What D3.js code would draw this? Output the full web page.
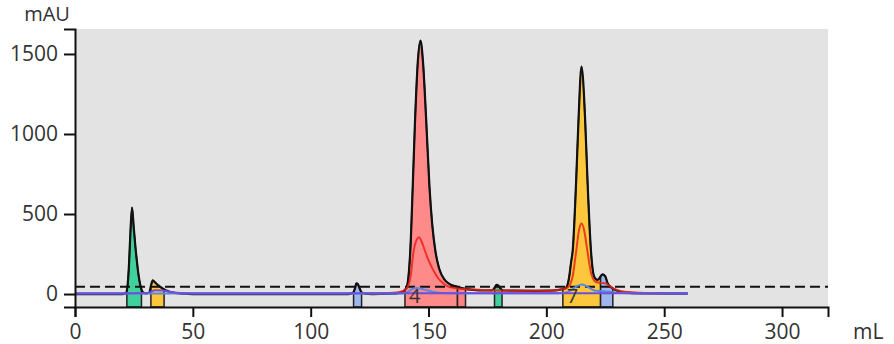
<!DOCTYPE html>
<html>
<head>
<meta charset="utf-8">
<script src="https://cdn.jsdelivr.net/npm/d3@7"></script>
<style>
  body { margin: 0; background: #fff; }
  text { font-family: "Open Sans", sans-serif; }
</style>
</head>
<body>
<div id="chart"></div>
<script>
// UV trace [mL, mAU]
const uvMain = [
  [0,0],[20,0],[21.5,4],[22.2,40],[22.9,180],[23.5,380],[24.2,540],[24.9,420],[25.6,300],[26.3,200],
  [27.0,115],[27.8,50],[28.6,15],[30,4],[31.5,8],[32.2,50],[33,85],[34,72],[35.5,52],[37,36],
  [39,20],[42,8],[46,2],[50,0],[116,0],[118,8],[118.8,35],[119.4,66],[120.1,60],[120.8,35],
  [121.6,10],[123,2],[126,0],[134,2],[137,6],[139,14],[140.7,40],[141.5,110],[142.3,280],[143.3,670],
  [144.3,1090],[145.5,1460],[146.6,1583],[147.7,1440],[149,1090],[150.4,670],[151.6,430],[153,260],
  [154.5,160],[156.8,90],[159,62],[162,46],[165,34],[169,26],[174,22],[177,23],[178,38],[178.9,57],
  [179.8,50],[180.8,30],[182,22],[186,21],[195,20],[202,21],[205.5,26],[208.3,38],[209.7,108],
  [210.5,200],[211.2,275],[212.6,692],[213.7,1108],[214.9,1421],[216.4,1108],[217.5,692],[218.9,275],
  [220.3,108],[221.7,88],[223.9,123],[225,110],[226,67],[228,37],[230,20],[233,10],[240,4],[260,2]
];

// second UV trace
const uvSecond = [
  [125,3],[135,8],[139,18],[141,40],[142.5,120],[143.5,250],[145,340],[146,355],[147,330],[148.5,270],
  [150,210],[152,150],[154,100],[156,70],[158,50],[161,38],[165,31],[175,24],[190,21],[200,21],
  [205,25],[209,40],[211,100],[212.5,250],[214,410],[215,440],[216,400],[217.5,260],[219,130],
  [221,75],[223,70],[225,68],[227,50],[229,30],[232,18],[235,12],[240,8],[250,5]
];

// third UV trace
const uvThird = [
  [0,3],[138,3],[141,12],[143,30],[145,37],[147,33],[150,20],[154,8],[158,5],[205,5],[209,12],
  [211,30],[213,50],[215,60],[217,50],[219,32],[221,20],[224,18],[227,14],[230,8],[235,5],[260,4]
];

// conductivity-like trace
const condTrace = [
  [0,5],[30,5],[32,12],[34,24],[37,22],[40,15],[43,8],[46,5],[140,5],[260,5]
];

const thresholdLevel = 45;

// fractions: start mL, end mL, colour, label
const fractionStart = [22.0, 32.2, 118.2, 140.0, 162.3, 178.0, 207.0, 223.0];
const fractionEnd   = [28.2, 37.8, 121.6, 162.3, 165.7, 181.2, 223.0, 228.2];
const fractionColor = ['#3fd09c', '#fcc73c', '#9db6ee', '#ff8a8a', '#fb8383', '#3fd09c', '#fcc73c', '#9db6ee'];
const fractionLabel = ['', '', '', '4', '', '', '7', ''];

const xTicks = [0, 50, 100, 150, 200, 250, 300];
const yTicks = [0, 500, 1000, 1500];

const width = 894, height = 344;
const margin = {top: 29, right: 66, bottom: 37, left: 75};
const innerW = width - margin.left - margin.right;
const innerH = height - margin.top - margin.bottom;

const x = d3.scaleLinear().domain([0, 319.5]).range([0, innerW]);
const y = d3.scaleLinear().domain([-81, 1656]).range([innerH, 0]);

const svg = d3.select('#chart').append('svg')
    .attr('width', width)
    .attr('height', height);

const g = svg.append('g')
    .attr('transform', `translate(${margin.left},${margin.top})`);

g.append('rect')
    .attr('width', innerW)
    .attr('height', innerH)
    .attr('fill', '#e3e3e3');

// interpolate the UV trace at a given mL (for fraction edges)
const bisect = d3.bisector(d => d[0]).left;
function uvAt(ml) {
  const i = bisect(uvMain, ml);
  if (i <= 0) return uvMain[0][1];
  if (i >= uvMain.length) return uvMain[uvMain.length - 1][1];
  const a = uvMain[i - 1], b = uvMain[i];
  const t = (ml - a[0]) / (b[0] - a[0]);
  return a[1] + t * (b[1] - a[1]);
}

const area = d3.area()
    .x(d => x(d[0]))
    .y0(innerH)
    .y1(d => y(d[1]))
    .curve(d3.curveMonotoneX);

fractionStart.forEach((s, i) => {
  const e = fractionEnd[i];
  const pts = [[s, uvAt(s)]]
      .concat(uvMain.filter(d => d[0] > s && d[0] < e))
      .concat([[e, uvAt(e)]]);
  g.append('path')
      .datum(pts)
      .attr('d', area)
      .attr('fill', fractionColor[i])
      .attr('stroke', '#222')
      .attr('stroke-width', 1.5);
});

const line = d3.line()
    .x(d => x(d[0]))
    .y(d => y(d[1]))
    .curve(d3.curveMonotoneX);

g.append('path')
    .datum(uvMain)
    .attr('d', line)
    .attr('fill', 'none')
    .attr('stroke', '#111')
    .attr('stroke-width', 2.2);

g.append('line')
    .attr('x1', 0)
    .attr('x2', innerW)
    .attr('y1', y(thresholdLevel))
    .attr('y2', y(thresholdLevel))
    .attr('stroke', '#111')
    .attr('stroke-width', 2)
    .attr('stroke-dasharray', '10,5');

g.append('path')
    .datum(uvSecond)
    .attr('d', line)
    .attr('fill', 'none')
    .attr('stroke', '#e8231b')
    .attr('stroke-opacity', 0.85)
    .attr('stroke-width', 2);

g.append('path')
    .datum(uvThird)
    .attr('d', line)
    .attr('fill', 'none')
    .attr('stroke', '#5c86e6')
    .attr('stroke-width', 2);

g.append('path')
    .datum(condTrace)
    .attr('d', line)
    .attr('fill', 'none')
    .attr('stroke', '#6e4fdb')
    .attr('stroke-width', 2);

// fraction numbers
fractionLabel.forEach((lab, i) => {
  if (!lab) return;
  g.append('text')
      .attr('x', x(fractionStart[i]) + 4)
      .attr('y', innerH - 4)
      .attr('font-size', 20)
      .attr('fill', '#333')
      .text(lab);
});

// axes
const xAxis = g.append('g')
    .attr('transform', `translate(0,${innerH})`)
    .call(d3.axisBottom(x).tickValues(xTicks).tickFormat(d3.format('d')).tickSize(10).tickPadding(7));

const yAxis = g.append('g')
    .call(d3.axisLeft(y).tickValues(yTicks).tickFormat(d3.format('d')).tickSize(11).tickPadding(6));

[xAxis, yAxis].forEach(a => {
  a.selectAll('path, line').attr('stroke', '#111').attr('stroke-width', 2);
  a.selectAll('text')
      .attr('font-size', 21)
      .attr('font-family', '"Open Sans", sans-serif')
      .attr('fill', '#333');
});

svg.append('text')
    .attr('x', 47)
    .attr('y', 21)
    .attr('text-anchor', 'middle')
    .attr('font-size', 20)
    .attr('fill', '#333')
    .text('mAU');

svg.append('text')
    .attr('x', 853)
    .attr('y', 339)
    .attr('font-size', 21)
    .attr('fill', '#333')
    .text('mL');
</script>
</body>
</html>
